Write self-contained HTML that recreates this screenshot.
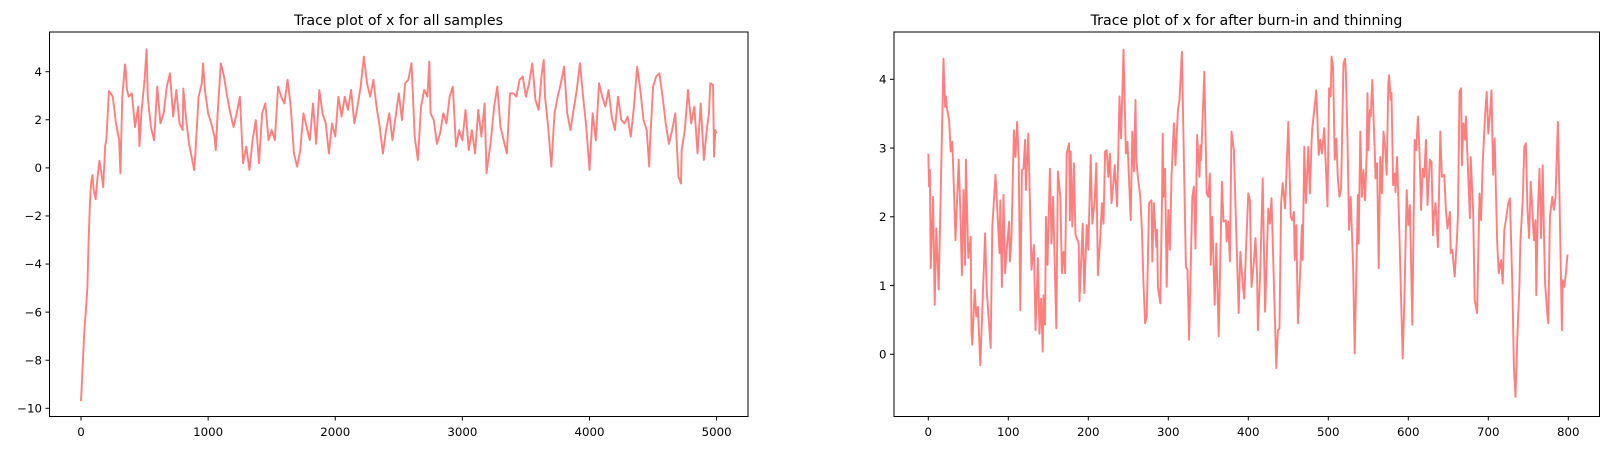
<!DOCTYPE html>
<html><head><meta charset="utf-8"><style>
html,body{margin:0;padding:0;background:#fff;}
svg{display:block;font-family:"DejaVu Sans","Liberation Sans",sans-serif;}
</style></head><body>
<svg id="fig" width="1608" height="451" viewBox="0 0 1608 451" xmlns="http://www.w3.org/2000/svg">
<rect x="0" y="0" width="1608" height="451" fill="#fff"/>
<text x="398.5" y="25" text-anchor="middle" font-size="14.2" fill="#000">Trace plot of x for all samples</text>
<text x="1246.5" y="25" text-anchor="middle" font-size="14.2" fill="#000">Trace plot of x for after burn-in and thinning</text>
<g id="left"></g>
<g id="right"></g>
</svg>
<script>
// ---- Left chart data (sample index, x value) ----
const leftSamples = [0,10,25,40,50,60,70,80,90,100,115,130,145,160,175,190,200,220,250,275,300,310,325,346,350,360,375,400,425,450,460,475,500,516,525,550,575,600,625,650,675,700,725,750,775,800,805,825,850,875,890,900,925,950,960,975,1000,1025,1050,1060,1075,1100,1125,1150,1175,1200,1225,1250,1275,1300,1325,1350,1375,1400,1425,1450,1475,1500,1525,1550,1575,1600,1625,1650,1675,1700,1725,1750,1775,1800,1825,1850,1875,1900,1925,1950,1975,2000,2025,2050,2075,2100,2125,2150,2175,2200,2225,2250,2275,2300,2325,2350,2375,2400,2425,2450,2475,2500,2525,2550,2575,2600,2625,2650,2675,2700,2725,2740,2750,2775,2800,2825,2850,2875,2900,2925,2950,2975,3000,3025,3050,3075,3100,3125,3150,3175,3190,3200,3225,3250,3275,3300,3325,3350,3375,3400,3425,3450,3475,3500,3525,3550,3575,3600,3625,3640,3650,3675,3700,3725,3750,3775,3800,3825,3850,3875,3900,3925,3950,3975,4000,4025,4050,4075,4100,4125,4150,4175,4200,4225,4250,4275,4300,4325,4350,4375,4400,4425,4450,4470,4475,4500,4525,4550,4575,4600,4625,4650,4675,4700,4720,4725,4750,4775,4800,4825,4850,4875,4900,4925,4940,4950,4972,4980,4990,4999];
const leftValues = [-9.7,-8.6,-6.9,-5.8,-5.0,-3.0,-1.5,-0.6,-0.3,-0.9,-1.3,-0.4,0.3,-0.2,-0.8,0.9,1.2,3.2,2.96,1.85,1.15,-0.23,2.96,4.3,4.2,3.3,2.96,3.1,1.7,2.55,0.9,2.27,3.66,4.93,2.96,1.7,1.15,3.38,1.85,2.27,3.38,3.93,2.13,3.24,1.85,1.57,3.3,2.13,1.0,0.33,-0.09,0.6,2.96,3.5,4.35,3.24,2.27,1.85,1.3,0.74,2.27,4.35,3.8,2.96,2.27,1.7,2.27,2.96,0.19,0.88,-0.09,1.15,1.99,0.19,2.27,2.68,1.15,1.57,1.15,3.38,2.96,2.68,3.66,2.55,0.6,0.05,0.74,2.27,1.7,1.15,2.68,1.0,3.24,2.27,1.85,0.6,1.85,1.3,2.96,2.13,2.96,2.41,3.24,1.85,2.55,3.38,4.63,3.52,2.96,3.66,2.55,1.7,0.6,1.57,2.27,1.15,2.13,3.1,1.99,3.52,3.66,4.35,1.3,0.33,2.55,3.24,2.96,4.42,2.27,1.99,1.0,1.43,2.27,1.85,2.96,3.38,0.88,1.57,1.15,2.41,0.74,1.57,0.6,2.41,1.3,2.68,-0.23,0.19,1.15,2.55,3.38,1.7,1.15,0.6,3.1,3.1,2.96,3.66,3.8,2.96,3.52,4.35,2.82,2.41,3.93,4.49,2.96,1.7,0.05,2.27,2.96,3.52,4.21,2.27,1.57,2.41,3.24,4.35,2.96,1.7,-0.09,2.27,1.15,3.52,2.96,2.55,3.24,2.13,1.57,2.96,1.99,1.85,2.13,1.3,2.55,4.21,3.24,1.99,1.57,0.05,0.88,3.38,3.8,3.93,2.96,1.85,1.0,1.57,2.27,-0.37,-0.65,0.74,1.57,3.24,1.85,2.55,0.6,2.68,0.33,1.7,2.27,3.52,3.45,0.47,1.57,1.43];
const leftXTicks = [0,1000,2000,3000,4000,5000];
const leftYTicks = [-10,-8,-6,-4,-2,0,2,4];

// ---- Right chart data (thinned index, x value) ----
const rightIdx = [0,1,2,3,6,8,10,13,19,21,22,23,26,28,30,32,34,38,40,42,44,46,47,50,53,54,55,58,60,62,65,71,73,78,80,84,89,90,92,94,96,98,101,102,104,107,109,111,113,115,117,119,121,122,125,129,132,134,137,139,141,143,144,146,147,149,152,154,156,160,162,165,167,169,171,173,176,177,178,180,182,184,188,189,193,195,198,200,203,205,208,210,212,215,217,219,221,223,225,227,229,231,233,236,239,241,244,247,249,253,255,257,259,260,262,265,267,269,271,273,276,279,280,282,285,286,287,290,292,293,294,296,298,300,302,304,307,309,310,312,314,317,322,324,326,330,332,334,336,339,340,341,345,348,350,352,353,355,358,360,363,367,369,372,373,375,377,379,382,384,388,390,393,395,397,400,402,404,407,409,411,412,415,418,421,425,427,429,435,437,439,441,443,446,450,453,455,457,458,460,462,465,467,468,470,472,475,477,479,480,485,488,490,492,495,499,501,503,504,506,508,510,512,514,516,519,521,522,524,526,528,531,533,537,538,540,542,544,546,548,549,550,552,553,555,558,559,561,563,565,567,569,571,573,575,576,578,579,581,583,584,586,589,591,593,595,598,600,602,605,608,610,612,614,616,618,620,622,624,627,629,631,632,634,637,640,642,645,647,649,652,653,655,658,661,662,664,666,667,669,671,672,674,677,678,681,683,686,689,691,693,696,698,700,702,704,706,708,711,713,716,718,720,722,725,727,730,732,734,736,739,740,743,745,747,749,751,753,755,757,759,760,762,764,766,768,770,771,774,775,777,780,782,784,787,789,792,793,795,797,799];
const rightValues = [2.92,2.44,2.68,1.25,2.29,0.72,1.83,0.94,4.30,3.60,3.75,3.60,3.41,2.95,3.09,2.41,1.66,2.83,2.10,1.15,2.39,1.30,2.83,1.40,1.71,0.30,0.14,0.94,0.55,0.69,-0.16,1.76,0.94,0.09,1.86,2.61,1.47,2.24,0.98,2.32,1.18,1.52,1.93,1.35,1.71,3.26,2.87,3.38,2.83,0.64,2.68,2.70,3.12,2.39,3.21,1.23,1.59,0.35,1.40,0.30,0.81,0.04,0.86,0.43,2.00,1.30,2.70,1.61,2.29,0.38,2.66,2.29,1.18,1.49,1.18,2.92,3.07,1.95,2.95,1.86,2.78,1.74,1.61,0.77,1.90,0.89,1.88,1.52,2.90,1.90,2.24,2.78,1.15,1.71,2.20,1.90,2.95,2.97,2.58,2.92,2.20,2.44,2.75,2.15,3.75,3.14,4.43,2.92,3.09,1.95,3.24,2.66,3.70,2.83,2.58,2.29,1.81,1.03,0.45,0.55,2.20,2.24,1.35,2.20,1.56,1.81,0.98,0.74,2.15,3.21,2.29,2.70,0.98,2.10,1.52,2.58,3.36,2.75,3.07,3.55,3.70,4.40,1.27,1.23,0.21,2.29,2.44,1.54,3.19,2.58,3.04,2.83,4.11,2.34,2.29,2.63,1.30,2.00,0.72,1.61,0.26,2.51,1.93,1.95,1.64,1.93,1.35,3.24,2.97,2.15,0.60,1.49,1.03,0.81,1.49,2.34,2.24,0.98,1.35,1.69,1.13,0.35,1.23,2.56,0.62,2.12,1.90,2.27,-0.20,0.35,0.38,2.20,2.49,2.12,3.38,2.00,1.95,2.07,1.37,1.88,0.45,1.23,1.88,1.37,3.02,2.20,3.02,2.34,3.07,3.29,3.84,2.90,3.12,2.92,3.29,2.15,3.87,3.75,4.33,4.18,2.83,3.14,2.54,2.29,2.41,4.23,4.30,4.09,3.12,1.81,2.29,1.28,0.01,2.32,1.61,3.24,2.29,2.68,2.24,2.92,3.80,2.97,3.55,3.46,3.99,2.97,2.56,2.78,1.25,2.87,2.34,3.24,3.02,2.61,3.94,4.06,3.70,3.80,2.46,2.63,2.36,2.87,1.71,0.79,-0.06,0.74,2.39,1.88,2.17,0.43,3.12,2.97,3.46,2.95,2.10,2.70,2.58,3.12,2.17,2.83,2.80,1.73,2.00,2.20,1.56,3.24,2.58,2.61,2.10,1.83,2.07,1.47,1.52,1.13,1.73,2.00,3.82,3.87,2.75,3.36,3.12,3.46,2.87,1.98,2.87,2.10,0.79,0.60,2.34,1.95,2.78,3.48,3.82,3.21,3.48,3.84,2.61,3.14,1.66,1.18,1.37,1.03,1.81,1.95,2.20,2.27,1.03,-0.18,-0.62,0.16,1.03,1.61,2.24,3.02,3.07,2.10,1.69,2.51,2.12,1.66,1.95,0.86,2.10,2.70,1.69,2.75,1.52,1.03,0.55,0.45,2.00,2.29,2.10,2.29,3.38,2.29,0.35,1.08,0.98,1.18,1.45];
const rightXTicks = [0,100,200,300,400,500,600,700,800];
const rightYTicks = [0,1,2,3,4];

const NS = "http://www.w3.org/2000/svg";
function mk(tag, attrs, parent){
  const e = document.createElementNS(NS, tag);
  for (const k in attrs) e.setAttribute(k, attrs[k]);
  parent.appendChild(e);
  return e;
}

function drawChart(g, cfg, xs, ys, xTicks, yTicks, prefix){
  const sx = v => cfg.x0px + (v - cfg.x0v) * (cfg.x1px - cfg.x0px) / (cfg.x1v - cfg.x0v);
  const sy = v => cfg.y0px + (v - cfg.y0v) * (cfg.y1px - cfg.y0px) / (cfg.y1v - cfg.y0v);
  let d = "";
  for (let i = 0; i < xs.length; i++) d += (i ? "L" : "M") + sx(xs[i]).toFixed(2) + " " + sy(ys[i]).toFixed(2);
  const path = mk("path", {d: d, fill: "none", stroke: "#ff7f7f", "stroke-width": "1.9", "stroke-linejoin": "round"}, g);
  
  
  const frame = mk("rect", {x: cfg.left, y: cfg.top, width: cfg.right - cfg.left, height: cfg.bottom - cfg.top, fill: "none", stroke: "#000", "stroke-width": "1"}, g);
  
  
  xTicks.forEach(t => {
    const x = sx(t);
    const tk = mk("line", {x1: x, x2: x, y1: cfg.bottom, y2: cfg.bottom + 4, stroke: "#000", "stroke-width": "1"}, g);
    
    
    const lb = mk("text", {x: x, y: cfg.bottom + 19.5, "text-anchor": "middle", "font-size": "11.8", fill: "#000"}, g);
    lb.textContent = String(t);
    
    
  });
  yTicks.forEach(t => {
    const y = sy(t);
    const tk = mk("line", {x1: cfg.left - 4, x2: cfg.left, y1: y, y2: y, stroke: "#000", "stroke-width": "1"}, g);
    
    
    const lb = mk("text", {x: cfg.left - 7.5, y: y + 4.2, "text-anchor": "end", "font-size": "11.8", fill: "#000"}, g);
    lb.textContent = t < 0 ? "\u2212" + Math.abs(t) : String(t);
    
    
  });
}

drawChart(document.getElementById("left"),
  {left: 49.5, right: 748, top: 32, bottom: 416.5,
   x0v: 0, x1v: 5000, x0px: 81, x1px: 716.6,
   y0v: 4, y1v: -10, y0px: 71.7, y1px: 408.3},
  leftSamples, leftValues, leftXTicks, leftYTicks, "left");

drawChart(document.getElementById("right"),
  {left: 894, right: 1599.5, top: 32, bottom: 416.5,
   x0v: 0, x1v: 800, x0px: 928.3, x1px: 1568.3,
   y0v: 4, y1v: 0, y0px: 79.3, y1px: 354.3},
  rightIdx, rightValues, rightXTicks, rightYTicks, "right");
</script>
</body></html>
